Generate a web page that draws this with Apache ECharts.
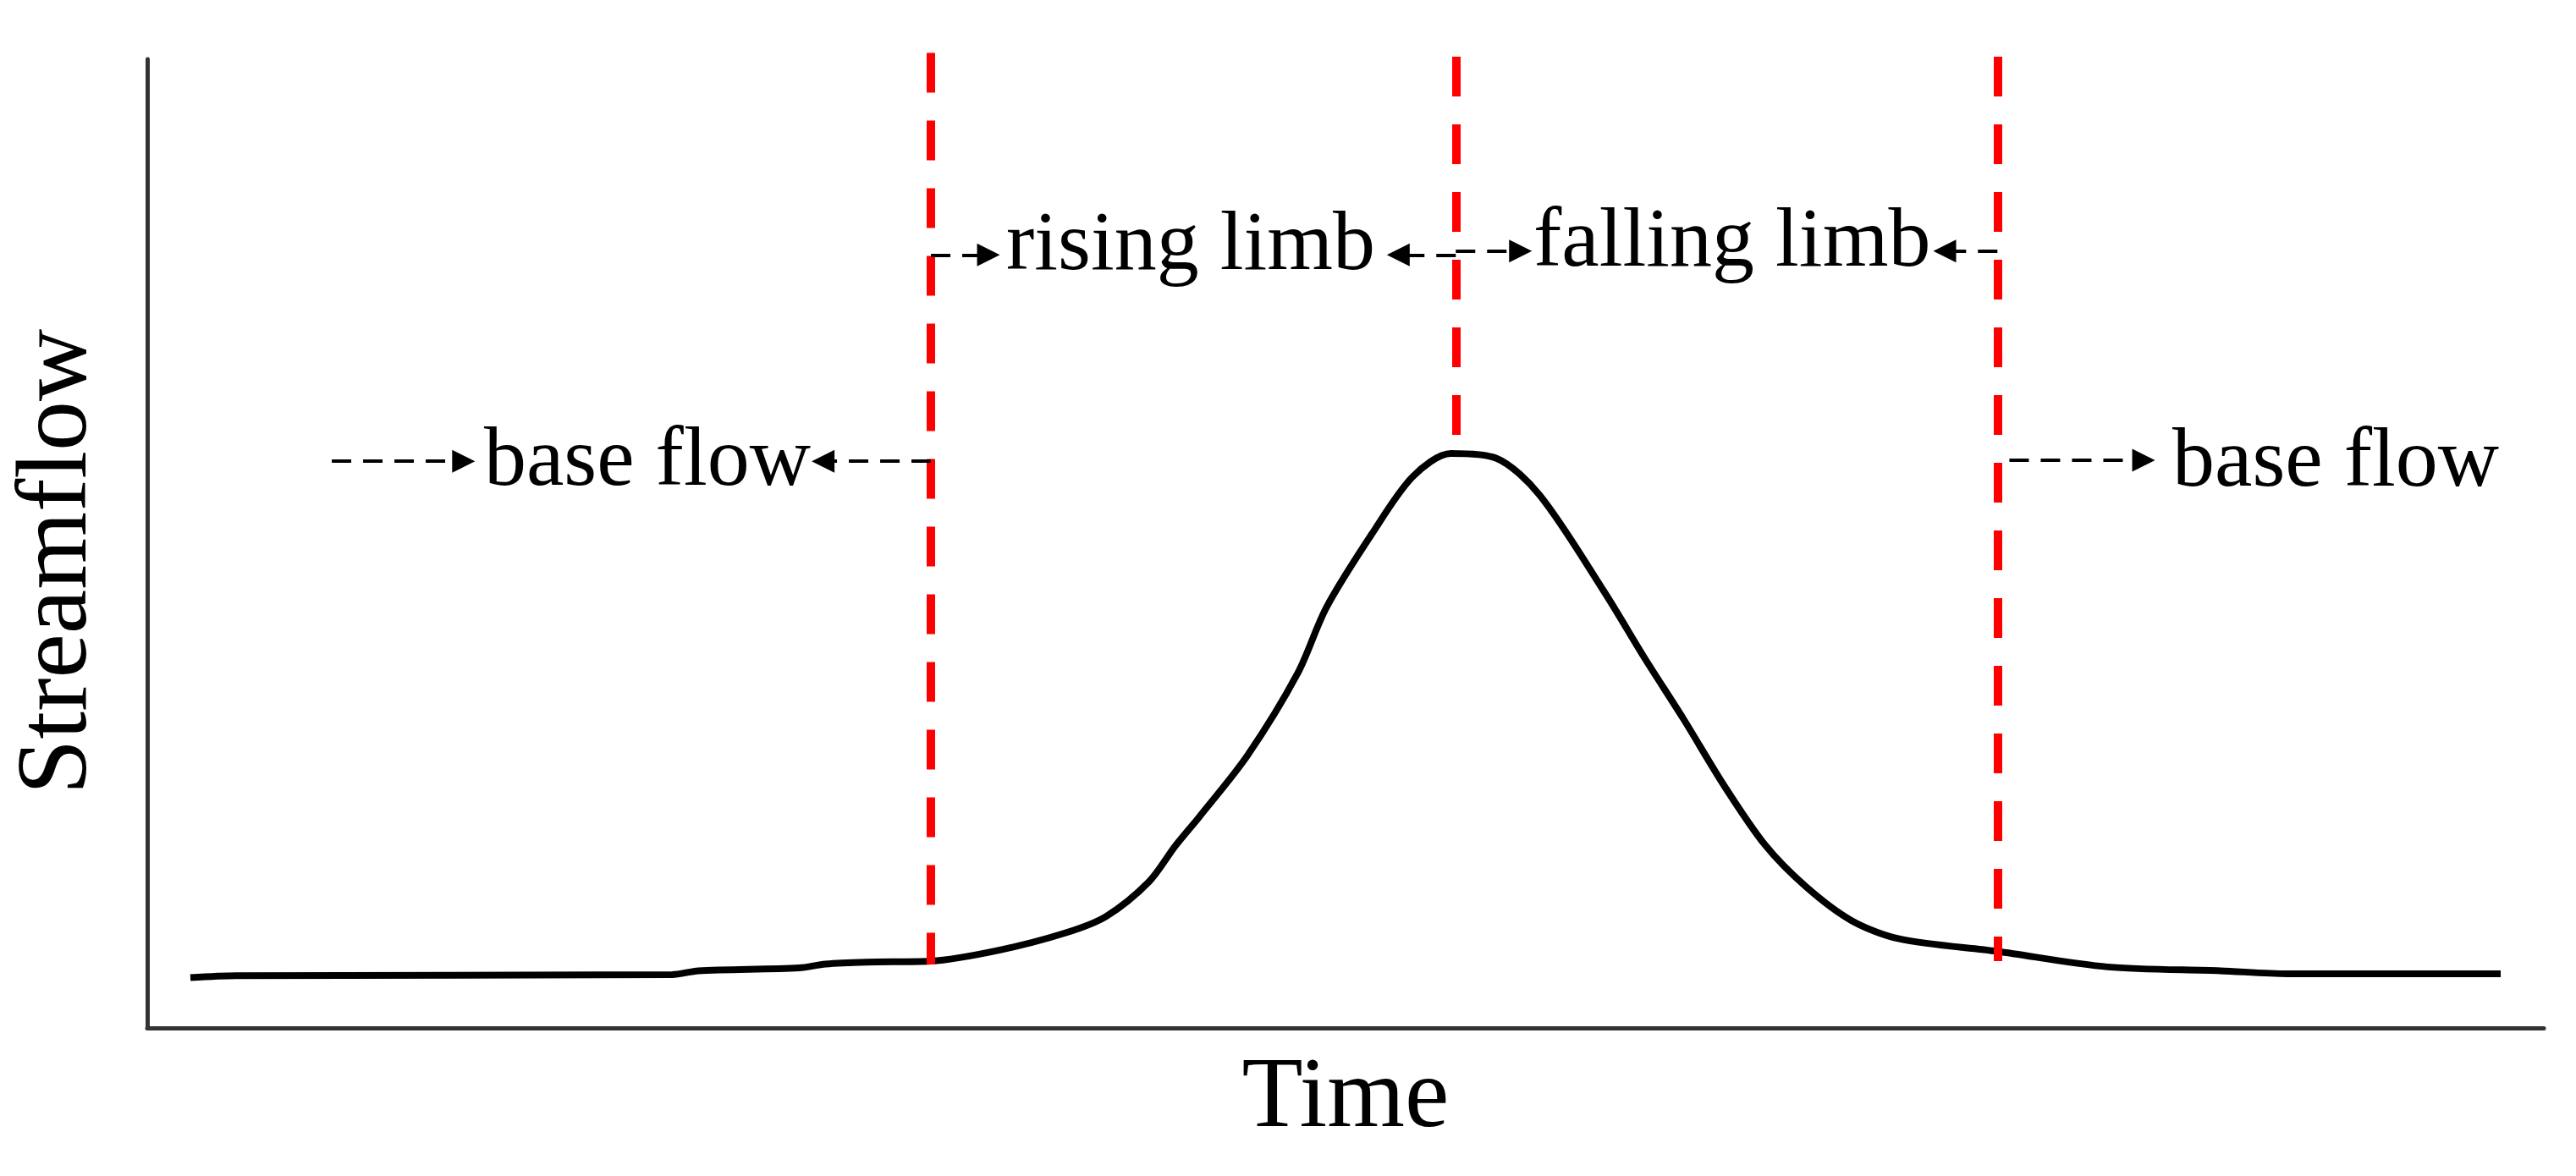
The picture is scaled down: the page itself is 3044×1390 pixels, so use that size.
<!DOCTYPE html>
<html>
<head>
<meta charset="utf-8">
<title>Streamflow hydrograph</title>
<script src="https://cdn.jsdelivr.net/npm/echarts@6/dist/echarts.min.js"></script>
<style>
  html, body { margin: 0; padding: 0; background: #fff; }
  #chart { width: 3044px; height: 1390px; }
</style>
</head>
<body>
<div id="chart"></div>
<script>
// hydrograph (time and flow in arbitrary 0-100 units)
const times = [1.8, 3.7, 21.9, 23.0, 27.2, 28.3, 30.0, 32.7, 35.5, 38.3, 40.0, 41.8, 42.9, 43.9, 45.9, 48.0,
  49.2, 51.1, 52.8, 54.4, 56.3, 58.1, 60.8, 62.5, 64.1, 65.8, 67.5, 69.2, 71.1, 73.1, 77.2, 81.8, 86.5, 89.3, 98.2];
const flow = [5.2, 5.4, 5.5, 5.9, 6.2, 6.6, 6.8, 6.9, 8.0, 9.8, 11.5, 15.1, 18.8, 21.8, 28.1, 36.6,
  43.4, 51.0, 56.9, 59.3, 58.8, 55.0, 45.0, 38.1, 31.9, 25.0, 18.9, 14.6, 11.1, 9.2, 7.9, 6.3, 5.9, 5.6, 5.6];

// red dividers: start of rise, peak, end of recession
const dividerTime = [32.7, 54.6, 77.2];
const dividerTop = [100.65, 100.26, 100.26];
const dividerBottom = [6.55, 61.1, 6.9];

// annotation labels (left edge, middle of text)
const labelText = ["base flow", "rising limb", "falling limb", "base flow"];
const labelTime = [14.05, 35.84, 57.84, 84.5];
const labelFlow = [58.4, 80.6, 81.0, 58.25];

// dashed arrows: from -> to (arrow head at "to")
const arrowFromTime = [7.7, 32.7, 32.7, 54.6, 54.6, 77.2, 77.7];
const arrowToTime = [13.2, 28.2, 35.1, 52.2, 57.3, 75.0, 83.3];
const arrowFlow = [58.5, 58.5, 79.8, 79.8, 80.2, 80.2, 58.6];

const serif = '"Liberation Serif", "Times New Roman", serif';

const chart = echarts.init(document.getElementById("chart"));

const curveData = times.map((t, i) => [t, flow[i]]);
const dividerData = dividerTime.map((t, i) => ({ coords: [[t, dividerTop[i]], [t, dividerBottom[i]]] }));
const arrowData = arrowFromTime.map((t, i) => ({ coords: [[t, arrowFlow[i]], [arrowToTime[i], arrowFlow[i]]] }));
const labelData = labelText.map((s, i) => ({ name: s, value: [labelTime[i], labelFlow[i]] }));

const option = {
  animation: false,
  backgroundColor: "#fff",
  grid: { left: 174, right: 38, top: 70, bottom: 175 },
  xAxis: {
    type: "value",
    min: 0,
    max: 100,
    name: "Time",
    nameLocation: "middle",
    nameGap: 26,
    nameTextStyle: { fontFamily: serif, fontSize: 118, lineHeight: 118, color: "#000" },
    axisLine: { show: true, onZero: false, lineStyle: { color: "#333", width: 5 } },
    axisTick: { show: false },
    axisLabel: { show: false },
    splitLine: { show: false }
  },
  yAxis: {
    type: "value",
    min: 0,
    max: 100,
    name: "Streamflow",
    nameLocation: "middle",
    nameRotate: 90,
    nameGap: 45,
    nameTextStyle: { fontFamily: serif, fontSize: 118, lineHeight: 118, color: "#000", padding: [0, 43, 0, 0] },
    axisLine: { show: true, onZero: false, lineStyle: { color: "#333", width: 5 } },
    axisTick: { show: false },
    axisLabel: { show: false },
    splitLine: { show: false }
  },
  series: [
    {
      name: "Streamflow",
      type: "line",
      data: curveData,
      smooth: 0.3,
      symbol: "none",
      clip: false,
      lineStyle: { color: "#000", width: 8 },
      z: 2
    },
    {
      type: "lines",
      coordinateSystem: "cartesian2d",
      data: dividerData,
      symbol: "none",
      clip: false,
      lineStyle: { color: "#ff0000", width: 10, type: [47, 33], opacity: 1 },
      z: 3
    },
    {
      type: "lines",
      coordinateSystem: "cartesian2d",
      data: arrowData,
      symbol: ["none", "triangle"],
      symbolSize: 27,
      clip: false,
      lineStyle: { color: "#000", width: 4, type: [23, 14], opacity: 1 },
      z: 4
    },
    {
      type: "scatter",
      data: labelData,
      symbolSize: 0,
      clip: false,
      itemStyle: { color: "#000" },
      label: {
        show: true,
        position: "right",
        distance: 0,
        formatter: "{t|{b}}",
        opacity: 1,
        color: "#000",
        rich: {
          t: { fontFamily: serif, fontSize: 100, color: "#000" }
        }
      },
      z: 5
    }
  ]
};

chart.setOption(option);
</script>
</body>
</html>
